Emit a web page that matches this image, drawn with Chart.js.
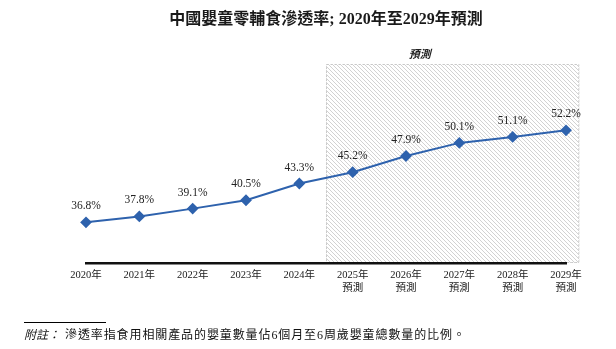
<!DOCTYPE html>
<html><head><meta charset="utf-8">
<script src="https://cdn.jsdelivr.net/npm/chart.js@4"></script>
<style>html,body{margin:0;padding:0;background:#fff}#wrap{width:616px;height:349px}</style>
</head><body><div id="wrap"><canvas id="c" width="616" height="349"></canvas></div>
<script>
const years = ["2020年","2021年","2022年","2023年","2024年","2025年","2026年","2027年","2028年","2029年"];
const forecastFlags = [false,false,false,false,false,true,true,true,true,true];
const penetration = [36.8, 37.8, 39.1, 40.5, 43.3, 45.2, 47.9, 50.1, 51.1, 52.2];
const titleText = "中國嬰童零輔食滲透率; 2020年至2029年預測";
const forecastText = "預測";
const noteLabel = "附註：";
const noteText = "滲透率指食用相關產品的嬰童數量佔6個月至6周歲嬰童總數量的比例。";

const labels = years.map((y,i)=> forecastFlags[i] ? [y, forecastText] : y);
const SERIF = '"Liberation Serif","Noto Sans CJK TC",serif';

function hatchPattern(ctx){
  const p = document.createElement('canvas'); p.width = 4; p.height = 4;
  const g = p.getContext('2d');
  g.fillStyle = '#ffffff'; g.fillRect(0,0,4,4);
  g.strokeStyle = '#d2d2d2'; g.lineWidth = 1;
  g.beginPath(); g.moveTo(0,0); g.lineTo(4,4); g.moveTo(-1,3); g.lineTo(1,5); g.moveTo(3,-1); g.lineTo(5,1); g.stroke();
  return ctx.createPattern(p,'repeat');
}

const decor = {
  id:'decor',
  beforeDraw(chart){
    const {ctx, chartArea:a, scales:{x}} = chart;
    const first = forecastFlags.indexOf(true);
    const step = x.getPixelForValue(1) - x.getPixelForValue(0);
    const left = (x.getPixelForValue(first-1) + x.getPixelForValue(first))/2;
    const right = x.getPixelForValue(years.length-1) + step*0.25;
    ctx.save();
    ctx.fillStyle = hatchPattern(ctx);
    ctx.fillRect(left, a.top, right-left, a.bottom-a.top);
    ctx.setLineDash([2,2]); ctx.strokeStyle = '#c8c8c8'; ctx.lineWidth = 1;
    ctx.strokeRect(left+0.5, a.top+0.5, right-left-1, a.bottom-a.top-1);
    ctx.setLineDash([]);
    // forecast header
    ctx.fillStyle = '#222';
    ctx.font = 'italic bold 11px ' + SERIF;
    ctx.textAlign = 'center'; ctx.textBaseline = 'middle';
    ctx.fillText(forecastText, left + (right-left)*0.37, a.top - 9);
    // title
    ctx.font = 'bold 16px ' + SERIF;
    ctx.fillStyle = '#1a1a1a';
    ctx.fillText(titleText, (a.left+a.right)/2, 20);
    // footnote
    ctx.strokeStyle = '#000'; ctx.lineWidth = 1;
    ctx.beginPath(); ctx.moveTo(24, 322.5); ctx.lineTo(106, 322.5); ctx.stroke();
    ctx.textAlign = 'left';
    ctx.fillStyle = '#111';
    ctx.font = 'italic 12px ' + SERIF;
    ctx.fillText(noteLabel, 24, 336);
    ctx.font = '12px ' + SERIF;
    ctx.letterSpacing = '0.9px';
    ctx.fillText(noteText, 65, 336);
    ctx.restore();
  },
  afterDatasetsDraw(chart){
    const {ctx} = chart;
    const meta = chart.getDatasetMeta(0);
    ctx.save();
    ctx.fillStyle = '#222';
    ctx.font = '11.5px ' + SERIF;
    ctx.textAlign = 'center'; ctx.textBaseline = 'middle';
    meta.data.forEach((pt,i)=>{
      ctx.fillText(penetration[i].toFixed(1)+'%', pt.x, pt.y - 16);
    });
    ctx.restore();
  }
};

new Chart(document.getElementById('c'), {
  type:'line',
  data:{ labels, datasets:[{
    data: penetration,
    borderColor:'#2e62ad', backgroundColor:'#2e62ad',
    borderWidth:2, pointStyle:'rectRot', pointRadius:4.5, pointHoverRadius:4.5,
    tension:0
  }]},
  options:{
    responsive:false, animation:false,
    layout:{ padding:{ left:86, right:50, top:64, bottom:0 } },
    plugins:{ legend:{display:false}, tooltip:{enabled:false}, title:{display:false} },
    scales:{
      x:{
        offset:false,
        grid:{display:false, drawTicks:false},
        border:{display:true, color:'#111', width:2.5},
        ticks:{ color:'#1a1a1a', font:{family:SERIF, size:10.5, lineHeight:1.25}, padding:6, maxRotation:0, autoSkip:false },
        afterFit(s){ s.height = 86; }
      },
      y:{ display:false, min:30, max:63.3 }
    }
  },
  plugins:[decor]
});
</script>
</body></html>
